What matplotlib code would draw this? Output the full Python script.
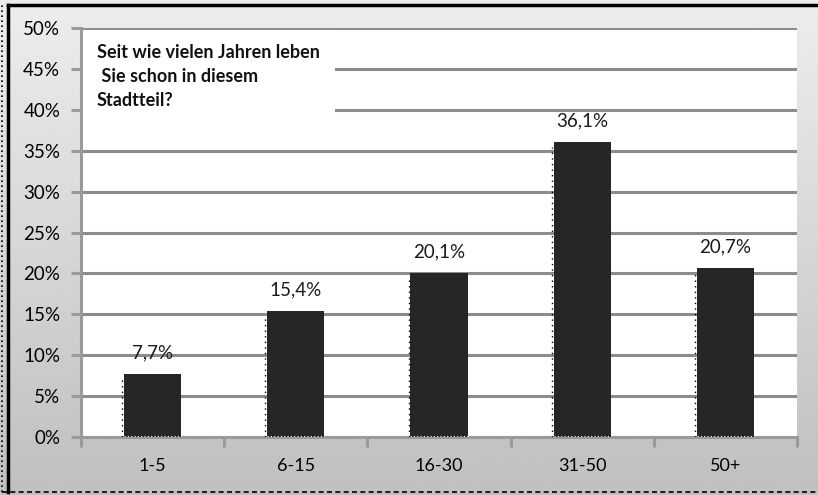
import numpy as np
import matplotlib
matplotlib.use("Agg")
import matplotlib.pyplot as plt
from matplotlib.lines import Line2D
from matplotlib.patches import Rectangle

# data
categories = ["1-5", "6-15", "16-30", "31-50", "50+"]
values = [7.7, 15.4, 20.1, 36.1, 20.7]
value_labels = ["7,7%", "15,4%", "20,1%", "36,1%", "20,7%"]
yticks = [0, 5, 10, 15, 20, 25, 30, 35, 40, 45, 50]
title_lines = ["Seit wie vielen Jahren leben", " Sie schon in diesem", "Stadtteil?"]

W, H = 818, 495
plt.rcParams["font.family"] = ["Lato", "DejaVu Sans"]

fig = plt.figure(figsize=(W / 100, H / 100), dpi=100)

# gray gradient background
bg = fig.add_axes([0, 0, 1, 1])
grad = np.linspace(0.93, 0.75, 256).reshape(-1, 1)
bg.imshow(grad, cmap="gray", vmin=0, vmax=1, aspect="auto", extent=[0, 1, 0, 1])
bg.set_xlim(0, 1)
bg.set_ylim(0, 1)
bg.axis("off")

# frame lines
bg.add_line(Line2D([8 / W, 1], [1 - 5 / H, 1 - 5 / H], color="black", lw=2.5))
bg.add_line(Line2D([8 / W, 8 / W], [3 / H, 1 - 5 / H], color="black", lw=2.5))
bg.add_line(Line2D([2 / W, 2 / W], [3 / H, 1 - 3 / H], color="black", lw=1.2, ls=(0, (1, 2))))
bg.add_line(Line2D([2 / W, 1], [3 / H, 3 / H], color="black", lw=1.2, ls=(0, (3, 2))))

x0, x1 = 81, 797
y0, y1 = 28, 437
ax = fig.add_axes([x0 / W, 1 - y1 / H, (x1 - x0) / W, (y1 - y0) / H])
ax.set_facecolor("white")

x = np.arange(len(categories))
bars = ax.bar(x, values, width=0.4, color="#262626", zorder=3)

# dotted left edges like the original rendering
for b in bars:
    bx = b.get_x() - 0.012
    ax.plot([bx, bx], [0, b.get_height() - 0.6], color="black", lw=1.0,
            ls=(0, (1, 3)), zorder=3)
    ax.plot([b.get_x(), b.get_x() + b.get_width()], [0.15, 0.15], color="white",
            lw=0.8, ls=(0, (1, 2)), zorder=4)

for xi, v, lab in zip(x, values, value_labels):
    ax.text(xi, v + 1.5, lab, ha="center", va="bottom", fontsize=13.5, color="#1a1a1a", zorder=4)

ax.set_xlim(-0.5, len(categories) - 0.5)
ax.set_ylim(0, 50)
ax.set_yticks(yticks)
ax.set_yticklabels([f"{t}%" for t in yticks], fontsize=13.5)
ax.set_xticks(x)
ax.set_xticklabels(categories, fontsize=13)
ax.set_xticks(np.arange(-0.5, len(categories)), minor=True)

ax.yaxis.grid(True, color="#8c8c8c", lw=2.2, zorder=1)
ax.set_axisbelow(True)

for s in ["top", "right"]:
    ax.spines[s].set_visible(False)
ax.spines["left"].set_color("#9a9a9a")
ax.spines["left"].set_linewidth(2.2)
ax.spines["bottom"].set_color("#9a9a9a")
ax.spines["bottom"].set_linewidth(2.2)

ax.tick_params(axis="y", length=7, width=2.2, color="#9a9a9a", pad=8)
ax.tick_params(axis="x", which="major", length=0, pad=15)
ax.tick_params(axis="x", which="minor", length=7, width=2.2, color="#9a9a9a")

# white title box
box = Rectangle(((83 - x0) / (x1 - x0), 1 - (148 - y0) / (y1 - y0)),
                (335 - 83) / (x1 - x0), (148 - 30) / (y1 - y0),
                transform=ax.transAxes, facecolor="white", edgecolor="none", zorder=5)
ax.add_patch(box)
for i, line in enumerate(title_lines):
    ax.text((97 - x0) / (x1 - x0), 1 - (53 + 24 * i - y0) / (y1 - y0), line,
            transform=ax.transAxes, fontsize=13, fontweight="bold", va="center",
            ha="left", color="#111111", zorder=6)

fig.savefig("out.png", dpi=100)
